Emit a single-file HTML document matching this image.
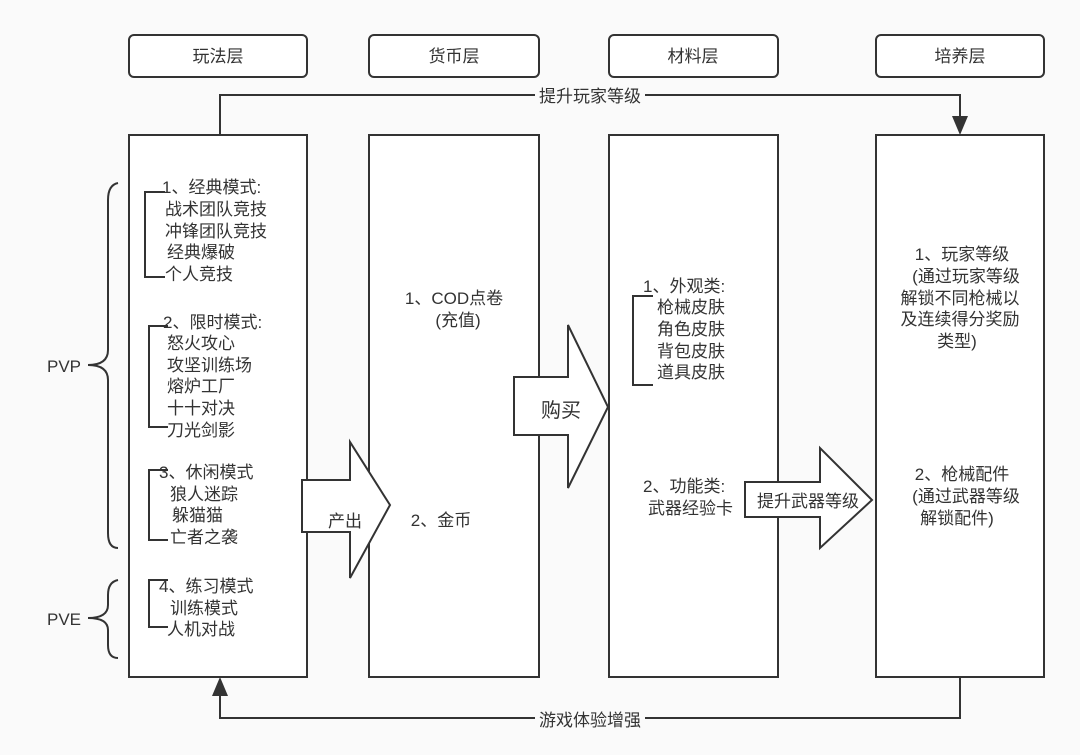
<!DOCTYPE html>
<html><head><meta charset="utf-8"><style>
html,body{margin:0;padding:0;background:#fafafa;}
svg{display:block}
text{font-family:"Liberation Sans","Noto Sans CJK SC",sans-serif;font-size:17px;fill:#333;}
</style></head><body>
<svg width="1080" height="755" xmlns="http://www.w3.org/2000/svg">
<rect width="1080" height="755" fill="#fafafa"/>
<g fill="#fff" stroke="#333" stroke-width="2">
<rect x="129" y="35" width="178" height="42" rx="5"/>
<rect x="369" y="35" width="170" height="42" rx="5"/>
<rect x="609" y="35" width="169" height="42" rx="5"/>
<rect x="876" y="35" width="168" height="42" rx="5"/>
<rect x="129" y="135" width="178" height="542"/>
<rect x="369" y="135" width="170" height="542"/>
<rect x="609" y="135" width="169" height="542"/>
<rect x="876" y="135" width="168" height="542"/>
</g>
<g text-anchor="middle">
<text x="218" y="62">玩法层</text>
<text x="454" y="62">货币层</text>
<text x="693" y="62">材料层</text>
<text x="960" y="62">培养层</text>
</g>
<g fill="none" stroke="#333" stroke-width="2">
<polyline points="220,135 220,95 535,95"/>
<polyline points="645,95 960,95 960,118"/>
<polyline points="960,677 960,718 645,718"/>
<polyline points="535,718 220,718 220,694"/>
</g>
<polygon points="952,116 968,116 960,135" fill="#333"/>
<polygon points="212,696 228,696 220,677" fill="#333"/>
<text x="590" y="102" text-anchor="middle">提升玩家等级</text>
<text x="590" y="726" text-anchor="middle">游戏体验增强</text>
<!-- arrows -->
<g fill="#fff" stroke="#333" stroke-width="2">
<polygon points="302,480 350,480 350,442 390,505 350,578 350,532 302,532"/>
<polygon points="514,377 568,377 568,325 608,407 568,488 568,435 514,435"/>
<polygon points="745,482 820,482 820,448 872,500 820,548 820,517 745,517"/>
</g>
<text x="345" y="527" text-anchor="middle">产出</text>
<text x="561" y="417" text-anchor="middle" style="font-size:20px">购买</text>
<text x="808" y="507" text-anchor="middle">提升武器等级</text>
<!-- braces -->
<g fill="none" stroke="#333" stroke-width="2">
<path d="M118,183 Q108,185 108,200 L108,350 Q108,365 88,365 Q108,365 108,380 L108,533 Q108,548 118,548"/>
<path d="M118,580 Q108,582 108,595 L108,605 Q108,618 88,618 Q108,618 108,630 L108,645 Q108,658 118,658"/>
<polyline points="165,192 145,192 145,277 165,277"/>
<polyline points="168,326 149,326 149,427 168,427"/>
<polyline points="168,470 149,470 149,540 168,540"/>
<polyline points="168,580 149,580 149,627 168,627"/>
<polyline points="653,296 633,296 633,385 653,385"/>
</g>
<text x="47" y="372">PVP</text>
<text x="47" y="625">PVE</text>
<g>
<text x="162" y="193">1、经典模式:</text>
<text x="165" y="215">战术团队竞技</text>
<text x="165" y="237">冲锋团队竞技</text>
<text x="167" y="258">经典爆破</text>
<text x="165" y="280">个人竞技</text>
<text x="163" y="328">2、限时模式:</text>
<text x="167" y="349">怒火攻心</text>
<text x="167" y="371">攻坚训练场</text>
<text x="167" y="392">熔炉工厂</text>
<text x="167" y="414">十十对决</text>
<text x="167" y="436">刀光剑影</text>
<text x="159" y="478">3、休闲模式</text>
<text x="170" y="500">狼人迷踪</text>
<text x="172" y="521">躲猫猫</text>
<text x="170" y="543">亡者之袭</text>
<text x="159" y="592">4、练习模式</text>
<text x="170" y="614">训练模式</text>
<text x="167" y="635">人机对战</text>
</g>
<g text-anchor="middle">
<text x="454" y="304">1、COD点卷</text>
<text x="458" y="326">(充值)</text>
<text x="441" y="526">2、金币</text>
</g>
<g>
<text x="643" y="292">1、外观类:</text>
<text x="657" y="313">枪械皮肤</text>
<text x="657" y="335">角色皮肤</text>
<text x="657" y="357">背包皮肤</text>
<text x="657" y="378">道具皮肤</text>
<text x="643" y="492">2、功能类:</text>
<text x="648" y="514">武器经验卡</text>
</g>
<g text-anchor="middle">
<text x="962" y="260">1、玩家等级</text>
<text x="966" y="282">(通过玩家等级</text>
<text x="960" y="304">解锁不同枪械以</text>
<text x="960" y="325">及连续得分奖励</text>
<text x="957" y="347">类型)</text>
<text x="962" y="480">2、枪械配件</text>
<text x="966" y="502">(通过武器等级</text>
<text x="957" y="524">解锁配件)</text>
</g>
</svg>
</body></html>
